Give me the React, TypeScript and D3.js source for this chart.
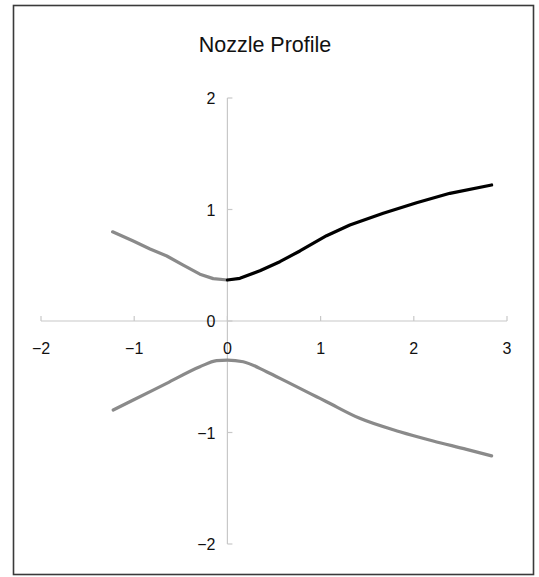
import React from "react";
import * as d3 from "d3";

const title = "Nozzle Profile";
const xTicks = [-2, -1, 0, 1, 2, 3];
const yTicks = [-2, -1, 0, 1, 2];

// upper wall, converging part (gray)
const upperLeftX = [-1.232, -1.01, -0.83, -0.65, -0.474, -0.295, -0.152, 0];
const upperLeftY = [0.8, 0.717, 0.646, 0.583, 0.502, 0.42, 0.38, 0.368];

// upper wall, diverging part (black)
const upperRightX = [0, 0.134, 0.349, 0.563, 0.778, 1.064, 1.314, 1.672, 2.03, 2.387, 2.835];
const upperRightY = [0.368, 0.383, 0.451, 0.532, 0.628, 0.765, 0.861, 0.966, 1.061, 1.145, 1.22];

// lower wall (gray)
const lowerX = [-1.225, -1.01, -0.652, -0.295, -0.116, 0, 0.17, 0.42, 0.635, 0.957, 1.064, 1.42, 1.85, 2.208, 2.566, 2.835];
const lowerY = [-0.798, -0.709, -0.559, -0.41, -0.356, -0.35, -0.365, -0.455, -0.544, -0.679, -0.724, -0.873, -0.993, -1.076, -1.151, -1.21];

const W = 539;
const H = 577;

export default function App() {
  const x = d3.scaleLinear().domain([-2, 3]).range([41, 507]);
  const y = d3.scaleLinear().domain([-2, 2]).range([544, 98]);
  const lineLin = d3
    .line<[number, number]>()
    .x((d) => x(d[0]))
    .y((d) => y(d[1]))
    .curve(d3.curveLinear);
  const lineSmooth = d3
    .line<[number, number]>()
    .x((d) => x(d[0]))
    .y((d) => y(d[1]))
    .curve(d3.curveMonotoneX);

  const zip = (a: number[], b: number[]) => a.map((v, i) => [v, b[i]] as [number, number]);
  const axisColor = "#c8c8c8";
  const font = "'Liberation Sans', Arial, sans-serif";

  return (
    <svg
      width={W}
      height={H}
      style={{ position: "absolute", left: 0, top: 0, background: "#fff" }}
      fontFamily={font}
    >
      <rect x={13.5} y={5.5} width={520} height={569} fill="#fff" stroke="#3a3a3a" strokeWidth={1.6} />
      <text x={265} y={52} textAnchor="middle" fontSize={21.5} fill="#111">
        {title}
      </text>

      {/* axes */}
      <line x1={x(-2)} x2={x(3)} y1={y(0)} y2={y(0)} stroke={axisColor} strokeWidth={1.2} />
      <line x1={x(0)} x2={x(0)} y1={y(2)} y2={y(-2)} stroke={axisColor} strokeWidth={1.2} />
      {xTicks.map((t) => (
        <g key={"xt" + t}>
          <line x1={x(t)} x2={x(t)} y1={y(0)} y2={y(0) - 5} stroke={axisColor} strokeWidth={1.2} />
          <text x={x(t)} y={y(0) + 33} textAnchor="middle" fontSize={16} fill="#111">
            {t < 0 ? "\u2212" + Math.abs(t) : String(t)}
          </text>
        </g>
      ))}
      {yTicks.map((t) => (
        <g key={"yt" + t}>
          <line x1={x(0)} x2={x(0) + 5} y1={y(t)} y2={y(t)} stroke={axisColor} strokeWidth={1.2} />
          <text x={x(0) - 12} y={y(t) + 6} textAnchor="end" fontSize={16} fill="#111">
            {t < 0 ? "\u2212" + Math.abs(t) : String(t)}
          </text>
        </g>
      ))}

      <path d={lineLin(zip(upperLeftX, upperLeftY)) || ""} fill="none" stroke="#8a8a8a" strokeWidth={3.2} strokeLinecap="round" strokeLinejoin="round" />
      <path d={lineSmooth(zip(lowerX, lowerY)) || ""} fill="none" stroke="#8a8a8a" strokeWidth={3.2} strokeLinecap="round" strokeLinejoin="round" />
      <path d={lineLin(zip(upperRightX, upperRightY)) || ""} fill="none" stroke="#000" strokeWidth={3.2} strokeLinecap="round" strokeLinejoin="round" />
    </svg>
  );
}
